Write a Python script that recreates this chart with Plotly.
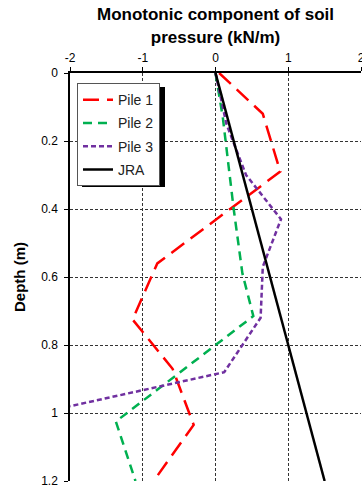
import plotly.graph_objects as go

# Data (x = soil pressure kN/m, y = depth m)
pile1_x = [0.05, 0.65, 0.89, -0.80, -1.14, -0.59, -0.30, -0.85]
pile1_y = [0.00, 0.12, 0.29, 0.56, 0.725, 0.87, 1.035, 1.20]
pile2_x = [0.00, 0.10, 0.25, 0.37, 0.52, -1.37, -1.10]
pile2_y = [0.00, 0.13, 0.40, 0.59, 0.715, 1.025, 1.20]
pile3_x = [0.00, 0.15, 0.42, 0.90, 0.65, 0.62, 0.12, -2.00]
pile3_y = [0.00, 0.15, 0.30, 0.43, 0.57, 0.72, 0.88, 0.98]
jra_x = [0.0, 1.5]
jra_y = [0.0, 1.2]

x_ticks = [-2, -1, 0, 1, 2]
y_ticks = [0, 0.2, 0.4, 0.6, 0.8, 1, 1.2]
y_labels = ["0", "0.2", "0.4", "0.6", "0.8", "1", "1.2"]

W, H = 362, 488
ml, mr, mt, mb = 70, 1, 73, 7

fig = go.Figure()
fig.add_trace(go.Scatter(x=pile1_x, y=pile1_y, mode="lines", name="Pile 1", legendgroup="a",
                         line=dict(color="#FF0000", width=2.5, dash="16px,8px")))
fig.add_trace(go.Scatter(x=pile2_x, y=pile2_y, mode="lines", name="Pile 2", legendgroup="b",
                         line=dict(color="#00B050", width=2.5, dash="9px,6px")))
fig.add_trace(go.Scatter(x=pile3_x, y=pile3_y, mode="lines", name="Pile 3", legendgroup="c",
                         line=dict(color="#7030A0", width=2.5, dash="5px,3px")))
fig.add_trace(go.Scatter(x=jra_x, y=jra_y, mode="lines", name="JRA", legendgroup="d",
                         line=dict(color="#000000", width=2.5)))

font_family = "Liberation Sans, Arial, sans-serif"

fig.update_layout(
    width=W, height=H,
    margin=dict(l=ml, r=mr, t=mt, b=mb, pad=0, autoexpand=False),
    paper_bgcolor="white", plot_bgcolor="white",
    font=dict(family=font_family, size=12, color="#000"),
    showlegend=True,
    legend=dict(x=0.024, y=0.975, xanchor="left", yanchor="top",
                bgcolor="white", bordercolor="#555", borderwidth=1,
                font=dict(size=14, color="#222"), tracegroupgap=2),
    xaxis=dict(range=[-2, 2], side="top", tickvals=x_ticks,
               ticktext=[str(v) for v in x_ticks], automargin=False,
               showgrid=True, gridcolor="#333", griddash="3px,2px", gridwidth=1,
               zeroline=False, showline=True, linecolor="black", linewidth=1.5,
               ticks="outside", ticklen=4, tickcolor="black",
               tickfont=dict(size=12), ticklabeloverflow="allow",
               title=dict(text="<b>Monotonic component of soil<br>pressure (kN/m)</b>",
                          font=dict(size=17), standoff=4)),
    yaxis=dict(range=[1.2, 0], tickvals=y_ticks, ticktext=y_labels, automargin=False,
               showgrid=True, gridcolor="#333", griddash="3px,2px", gridwidth=1,
               zeroline=False, showline=True, linecolor="black", linewidth=1.5,
               ticks="outside", ticklen=4, tickcolor="black",
               tickfont=dict(size=12), ticklabelstandoff=4, ticklabeloverflow="allow",
               title=dict(text="<b>Depth (m)</b>", font=dict(size=15), standoff=12)),
)

# legend drop shadow
pw, ph = W - ml - mr, H - mt - mb
def px_to_paper(px, py):
    return (px - ml) / pw, (H - mb - py) / ph
x0, y0 = px_to_paper(82, 87)
x1, y1 = px_to_paper(165, 187)
fig.add_shape(type="rect", xref="paper", yref="paper", x0=x0, y0=y1, x1=x1, y1=y0,
              fillcolor="black", line=dict(width=0), layer="above")

fig.write_html("out.html")
